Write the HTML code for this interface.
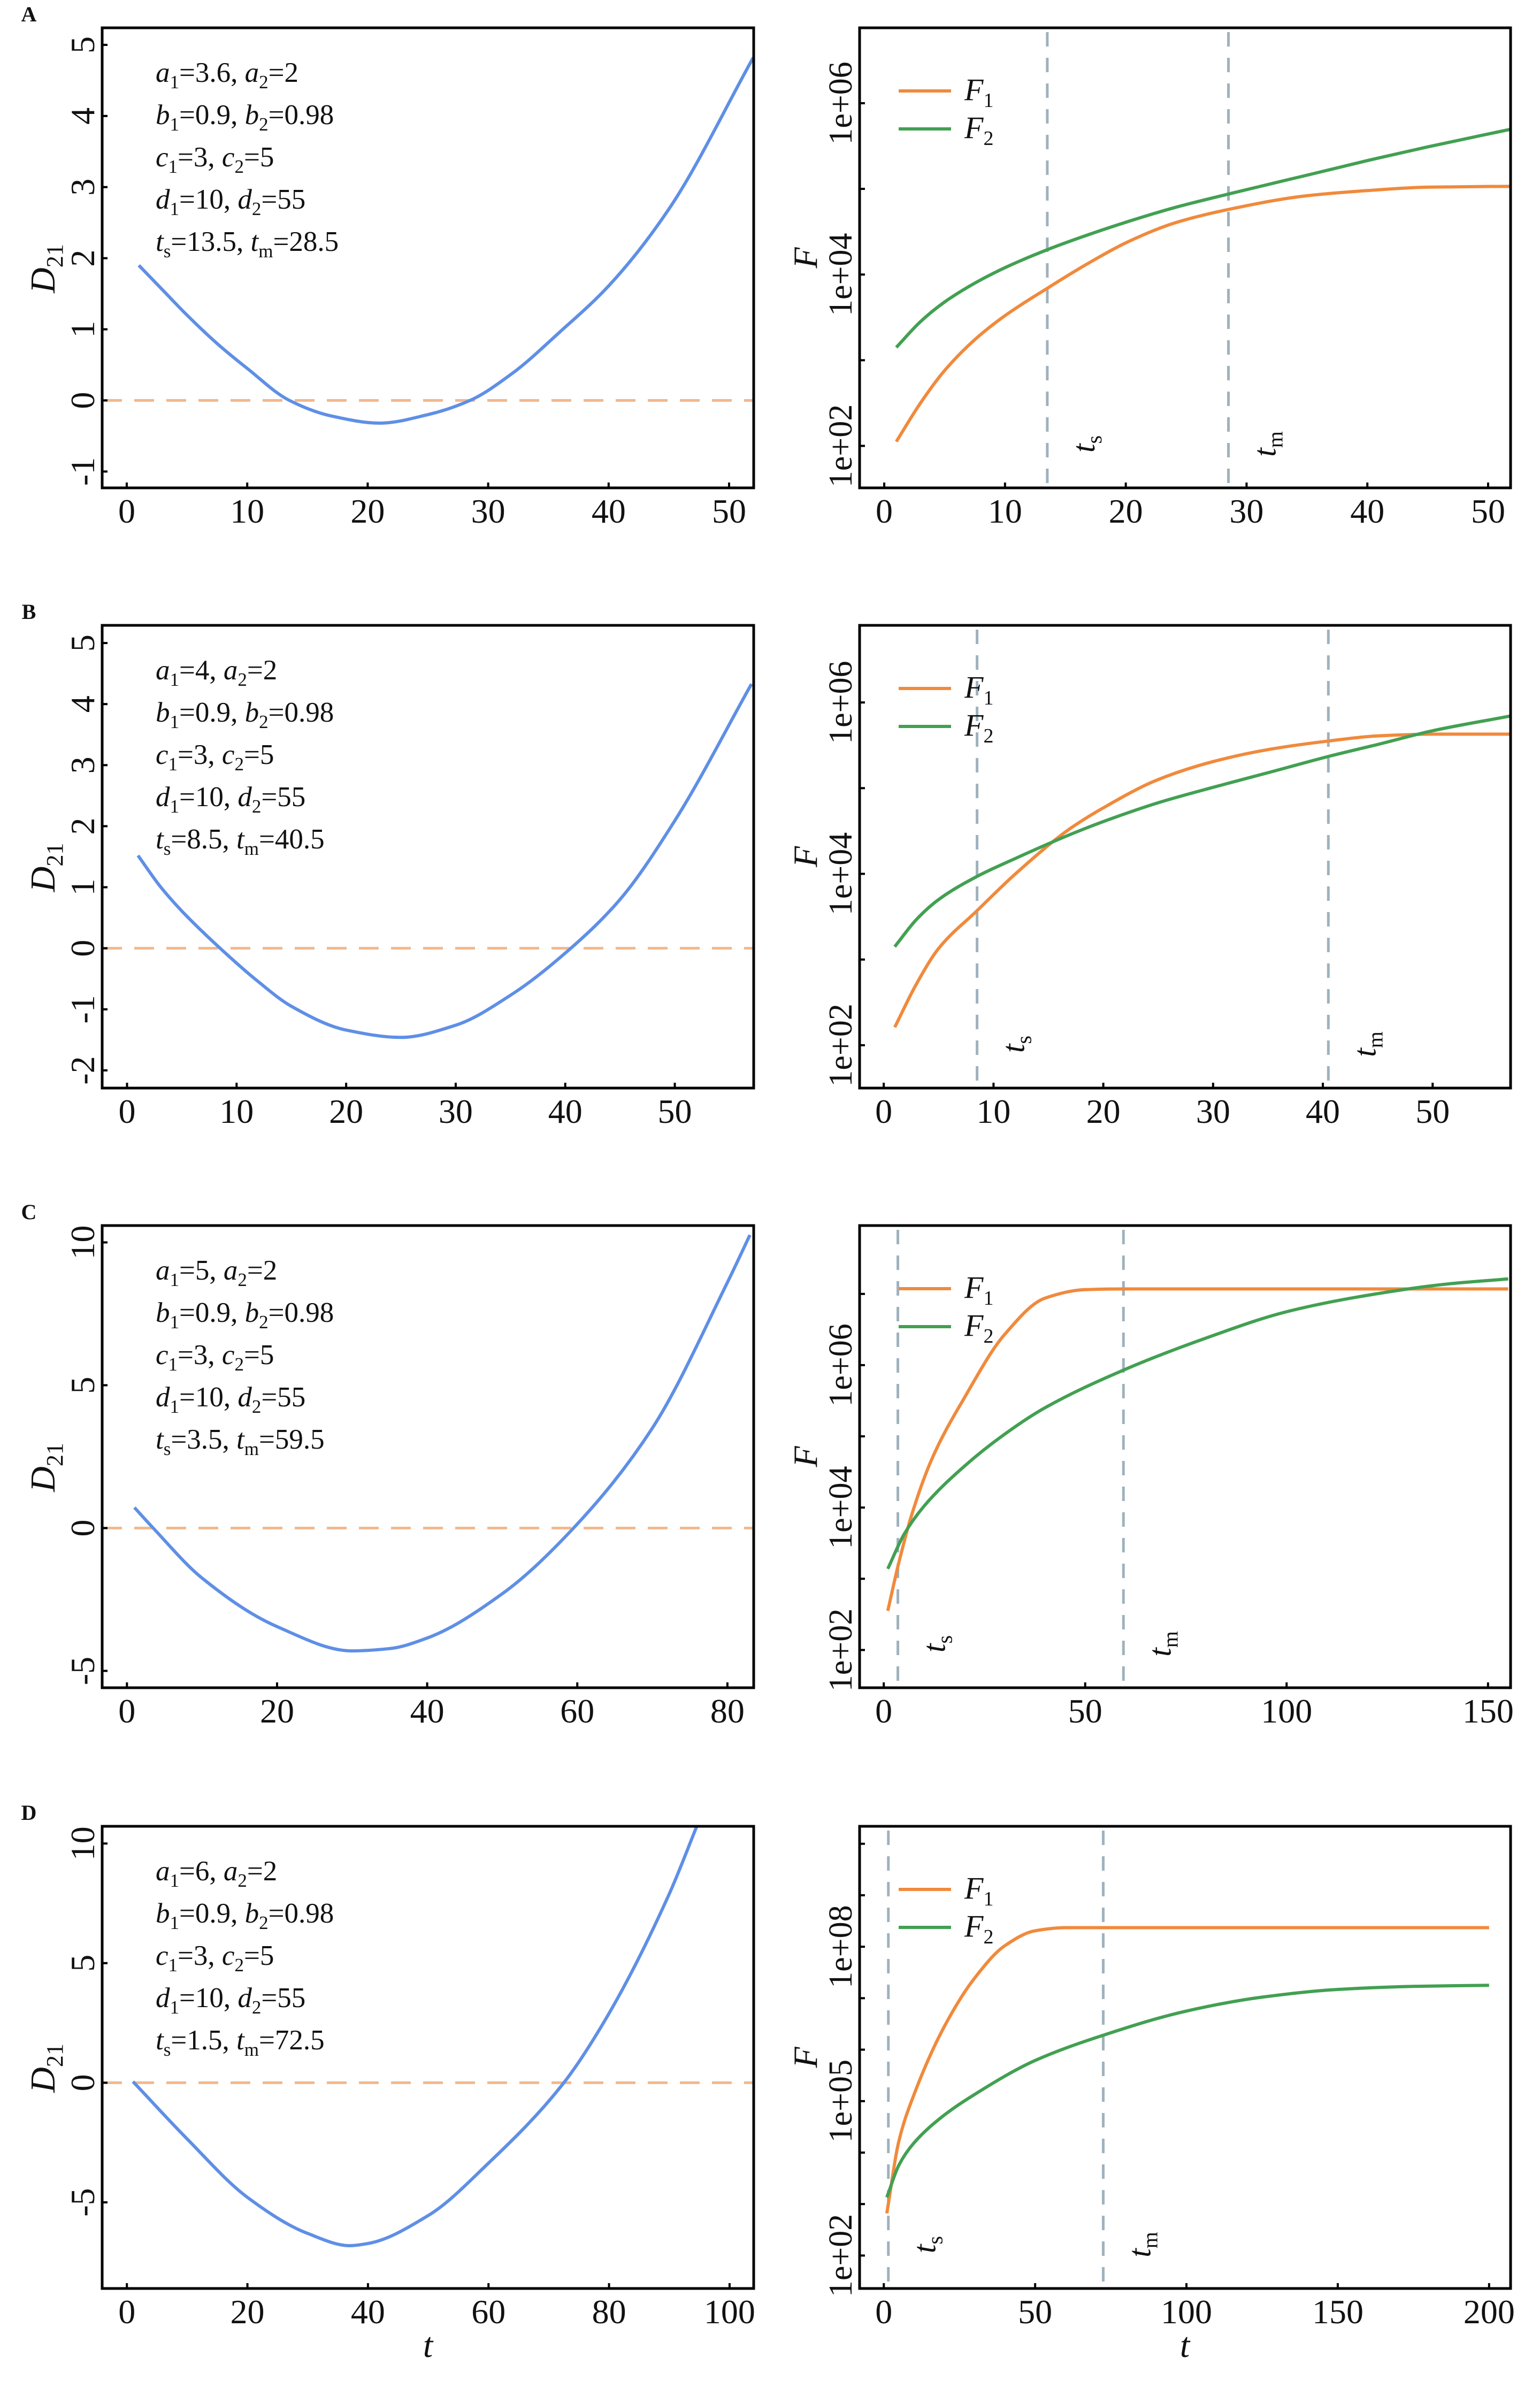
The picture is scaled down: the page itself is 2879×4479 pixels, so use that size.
<!DOCTYPE html>
<html><head><meta charset="utf-8">
<style>
html,body{margin:0;padding:0;background:#fff;}
svg{display:block;}
text{font-family:"Liberation Serif",serif;fill:#111;}
</style></head>
<body>
<svg id="fig" width="2879" height="4479" viewBox="0 0 2879 4479" xmlns="http://www.w3.org/2000/svg">
<rect width="2879" height="4479" fill="#fff"/>
</svg>
<script>
// ---- Panel A data ----
const tA_D = [1, 3, 5, 7.5, 10, 13.5, 17, 21, 25, 28.5, 32, 36, 40, 45, 52];
const vA_D = [1.9, 1.55, 1.2, 0.8, 0.45, 0, -0.22, -0.32, -0.2, 0, 0.38, 0.97, 1.61, 2.69, 4.82];
const tA_F = [1, 3, 5, 7.5, 10, 13.5, 17, 20, 24, 28.5, 35, 40, 45, 52];
const vA_F1 = [2.05, 2.5, 2.88, 3.24, 3.52, 3.84, 4.14, 4.37, 4.6, 4.76, 4.92, 4.98, 5.02, 5.03];
const vA_F2 = [3.15, 3.45, 3.68, 3.90, 4.08, 4.29, 4.47, 4.61, 4.78, 4.94, 5.16, 5.33, 5.49, 5.70];
// ---- Panel B data ----
const tB_D = [1, 3, 5, 8.5, 12, 15, 20, 25, 30, 35, 40.5, 45, 50, 57];
const vB_D = [1.52, 1.02, 0.61, 0, -0.55, -0.95, -1.34, -1.46, -1.26, -0.77, 0, 0.80, 2.09, 4.33];
const tB_F = [1, 3, 5, 8.5, 12, 17, 20, 25, 30, 35, 40.5, 45, 50, 57];
const vB_F1 = [2.21, 2.72, 3.13, 3.57, 4.00, 4.53, 4.77, 5.10, 5.31, 5.45, 5.55, 5.61, 5.63, 5.63];
const vB_F2 = [3.15, 3.47, 3.70, 3.97, 4.18, 4.46, 4.61, 4.83, 5.01, 5.18, 5.37, 5.51, 5.67, 5.84];
// ---- Panel C data ----
const tC_D = [1, 3.5, 10, 20, 30, 35, 40, 50, 59.5, 70, 80, 83];
const vC_D = [0.72, 0, -1.75, -3.45, -4.3, -4.22, -3.85, -2.3, 0, 3.5, 8.6, 10.26];
const tC_F1 = [1, 3.5, 7, 12, 20, 30, 40, 50, 59.5, 155];
const vC_F1 = [2.55, 3.17, 3.91, 4.69, 5.54, 6.43, 6.94, 7.06, 7.07, 7.07];
const tC_F2 = [1, 5, 10, 20, 30, 40, 59.5, 80, 100, 120, 140, 155];
const vC_F2 = [3.14, 3.62, 4.02, 4.58, 5.03, 5.40, 5.93, 6.38, 6.75, 6.98, 7.14, 7.21];
// ---- Panel D data ----
const tD_D = [1, 10, 20, 30, 37, 40, 50, 60, 72.5, 80, 90, 95];
const vD_D = [0.05, -2.35, -4.79, -6.30, -6.81, -6.72, -5.55, -3.36, 0, 2.9, 7.9, 11.0];
const tD_F1 = [1, 5, 10, 20, 30, 40, 50, 60, 200];
const vD_F1 = [2.82, 4.23, 5.13, 6.45, 7.39, 8.02, 8.31, 8.37, 8.37];
const tD_F2 = [1, 5, 10, 20, 30, 50, 72.5, 100, 125, 150, 175, 200];
const vD_F2 = [3.13, 3.76, 4.19, 4.73, 5.13, 5.79, 6.28, 6.75, 7.02, 7.17, 7.23, 7.25];
// ---- thresholds ----
const tsVals = [13.5, 8.5, 3.5, 1.5];
const tmVals = [28.5, 40.5, 59.5, 72.5];
const panelLetters = ['A','B','C','D'];
const paramA = ['3.6','4','5','6'];
const leftYTicks = [[-1,0,1,2,3,4,5],[-2,-1,0,1,2,3,4,5],[-5,0,5,10],[-5,0,5,10]];
const leftXTicks = [[0,10,20,30,40,50],[0,10,20,30,40,50],[0,20,40,60,80],[0,20,40,60,80,100]];
const rightXTicks = [[0,10,20,30,40,50],[0,10,20,30,40,50],[0,50,100,150],[0,50,100,150,200]];
const rightLogTicks = [[2,3,4,5,6],[2,3,4,5,6],[2,3,4,5,6,7],[2,3,4,5,6,7,8,9,10]];
const rightLogLabels = [[2,4,6],[2,4,6],[2,4,6],[2,5,8]];

const rows = [
 {top:52, bot:912, lx:[-2.04,52.04], ly:[-1.23,5.24], rx:[-2.04,51.86], ry:[1.51,6.88],
  Dt:tA_D, Dv:vA_D, F1t:tA_F, F1v:vA_F1, F2t:tA_F, F2v:vA_F2},
 {top:1169, bot:2034, lx:[-2.27,57.2], ly:[-2.29,5.29], rx:[-2.2,57.1], ry:[1.50,6.90],
  Dt:tB_D, Dv:vB_D, F1t:tB_F, F1v:vB_F1, F2t:tB_F, F2v:vB_F2},
 {top:2291, bot:3155, lx:[-3.3,83.5], ly:[-5.59,10.59], rx:[-6.0,155.6], ry:[1.47,7.96],
  Dt:tC_D, Dv:vC_D, F1t:tC_F1, F1v:vC_F1, F2t:tC_F2, F2v:vC_F2},
 {top:3414, bot:4278, lx:[-4.1,104], ly:[-8.6,10.72], rx:[-8.0,207.1], ry:[1.36,10.34],
  Dt:tD_D, Dv:vD_D, F1t:tD_F1, F1v:vD_F1, F2t:tD_F2, F2v:vD_F2}
];
const L = {x0:191, x1:1409}, R = {x0:1607, x1:2824};
const NS = 'http://www.w3.org/2000/svg';
const svg = document.getElementById('fig');
function mk(tag, attrs, parent){
  const e = document.createElementNS(NS, tag);
  for (const k in attrs) e.setAttribute(k, attrs[k]);
  (parent||svg).appendChild(e); return e;
}
function scale(d, r){ return v => r[0] + (v - d[0]) / (d[1] - d[0]) * (r[1] - r[0]); }
function smoothPath(pts){
  const n = pts.length;
  const dx = [], sl = [];
  for (let i = 0; i < n-1; i++){ dx.push(pts[i+1][0]-pts[i][0]); sl.push((pts[i+1][1]-pts[i][1])/dx[i]); }
  const m = new Array(n);
  m[0] = sl[0]; m[n-1] = sl[n-2];
  for (let i = 1; i < n-1; i++){
    if (sl[i-1]*sl[i] <= 0) m[i] = 0;
    else {
      const w1 = 2*dx[i] + dx[i-1], w2 = dx[i] + 2*dx[i-1];
      m[i] = (w1 + w2) / (w1/sl[i-1] + w2/sl[i]);
    }
  }
  let d = 'M' + pts[0][0].toFixed(1) + ',' + pts[0][1].toFixed(1);
  for (let i = 0; i < n-1; i++){
    const h = dx[i]/3;
    d += ' C' + (pts[i][0]+h).toFixed(1) + ',' + (pts[i][1]+m[i]*h).toFixed(1) + ' ' +
         (pts[i+1][0]-h).toFixed(1) + ',' + (pts[i+1][1]-m[i+1]*h).toFixed(1) + ' ' +
         pts[i+1][0].toFixed(1) + ',' + pts[i+1][1].toFixed(1);
  }
  return d;
}
function label(parent, x, y, parts, size, rot, anchor){
  const t = mk('text', {x:x, y:y, 'font-size':size, 'text-anchor':anchor||'start'}, parent);
  if (rot) t.setAttribute('transform', 'rotate(-90 ' + x + ' ' + y + ')');
  parts.forEach(p => {
    const s = mk('tspan', {}, t);
    if (p.i) s.setAttribute('font-style', 'italic');
    if (p.sub){ s.setAttribute('font-size', Math.round(size*0.66)); s.setAttribute('dy', Math.round(size*0.22)); }
    if (p.up){ s.setAttribute('dy', -Math.round(size*0.22)); }
    s.textContent = p.s;
  });
  return t;
}

rows.forEach((r, k) => {
  const letter = panelLetters[k];
  const gl = mk('g', {});
  
  
  const sx = scale(r.lx, [L.x0, L.x1]), sy = scale(r.ly, [r.bot, r.top]);
  const cid = 'clipL' + k;
  const cp = mk('clipPath', {id:cid}, gl);
  mk('rect', {x:L.x0, y:r.top, width:L.x1-L.x0, height:r.bot-r.top}, cp);
  const z = mk('line', {x1:L.x0, x2:L.x1, y1:sy(0), y2:sy(0), stroke:'#f2b88c', 'stroke-width':5, 'stroke-dasharray':'37 23'}, gl);
  
  
  const dp = mk('path', {d:smoothPath(r.Dt.map((t,i)=>[sx(t), sy(r.Dv[i])])), fill:'none', stroke:'#5f8fe6', 'stroke-width':6, 'stroke-linejoin':'round', 'clip-path':'url(#'+cid+')'}, gl);
  
  
  const fr = mk('rect', {x:L.x0, y:r.top, width:L.x1-L.x0, height:r.bot-r.top, fill:'none', stroke:'#000', 'stroke-width':5}, gl);
  
  
  leftXTicks[k].forEach(v => {
    mk('line', {x1:sx(v), x2:sx(v), y1:r.bot, y2:r.bot-10, stroke:'#000', 'stroke-width':4}, gl);
    const tl = label(gl, sx(v), r.bot+65, [{s:String(v)}], 64, false, 'middle');
    
    
  });
  leftYTicks[k].forEach(v => {
    mk('line', {x1:L.x0, x2:L.x0+10, y1:sy(v), y2:sy(v), stroke:'#000', 'stroke-width':4}, gl);
    const tl = label(gl, 176, sy(v), [{s:String(v)}], 64, true, 'middle');
    
    
  });
  const yl = label(gl, 102, (r.top+r.bot)/2 + 20, [{s:'D', i:true}, {s:'21', sub:true}], 66, true, 'middle');
  
  
  const pl = mk('text', {x:54, y:r.top-12, 'font-size':40, 'font-weight':'bold', 'text-anchor':'middle'}, gl);
  pl.textContent = letter;
  
  
  const lines = [
    [{s:'a',i:true},{s:'1',sub:true},{s:'=' + paramA[k] + ', ',up:true},{s:'a',i:true},{s:'2',sub:true},{s:'=2',up:true}],
    [{s:'b',i:true},{s:'1',sub:true},{s:'=0.9, ',up:true},{s:'b',i:true},{s:'2',sub:true},{s:'=0.98',up:true}],
    [{s:'c',i:true},{s:'1',sub:true},{s:'=3, ',up:true},{s:'c',i:true},{s:'2',sub:true},{s:'=5',up:true}],
    [{s:'d',i:true},{s:'1',sub:true},{s:'=10, ',up:true},{s:'d',i:true},{s:'2',sub:true},{s:'=55',up:true}],
    [{s:'t',i:true},{s:'s',sub:true},{s:'=' + tsVals[k] + ', ',up:true},{s:'t',i:true},{s:'m',sub:true},{s:'=' + tmVals[k],up:true}]
  ];
  lines.forEach((ln, j) => {
    const pt = label(gl, 291, r.top + 101 + j*79, ln, 53, false, 'start');
    
    
  });
  if (k === 3){
    const xt = label(gl, 800, r.bot+128, [{s:'t', i:true}], 66, false, 'middle');
    
    
  }

  const gr = mk('g', {});
  
  
  const rx = scale(r.rx, [R.x0, R.x1]), ry = scale(r.ry, [r.bot, r.top]);
  const cid2 = 'clipR' + k;
  const cp2 = mk('clipPath', {id:cid2}, gr);
  mk('rect', {x:R.x0, y:r.top, width:R.x1-R.x0, height:r.bot-r.top}, cp2);
  [[tsVals[k],'s','ts'],[tmVals[k],'m','tm']].forEach(([v, sub, nm]) => {
    const vl = mk('line', {x1:rx(v), x2:rx(v), y1:r.top+8, y2:r.bot, stroke:'#9fb2bd', 'stroke-width':5, 'stroke-dasharray':'27 21'}, gr);
    
    
    const vt = label(gr, rx(v)+88, r.bot-82, [{s:'t', i:true}, {s:sub, sub:true}], 60, true, 'middle');
    
    
  });
  const p1 = mk('path', {d:smoothPath(r.F1t.map((t,i)=>[rx(t), ry(r.F1v[i])])), fill:'none', stroke:'#f08a3c', 'stroke-width':6, 'clip-path':'url(#'+cid2+')'}, gr);
  
  
  const p2 = mk('path', {d:smoothPath(r.F2t.map((t,i)=>[rx(t), ry(r.F2v[i])])), fill:'none', stroke:'#42a052', 'stroke-width':6, 'clip-path':'url(#'+cid2+')'}, gr);
  
  
  const fr2 = mk('rect', {x:R.x0, y:r.top, width:R.x1-R.x0, height:r.bot-r.top, fill:'none', stroke:'#000', 'stroke-width':5}, gr);
  
  
  rightXTicks[k].forEach(v => {
    mk('line', {x1:rx(v), x2:rx(v), y1:r.bot, y2:r.bot-10, stroke:'#000', 'stroke-width':4}, gr);
    const tl = label(gr, rx(v), r.bot+65, [{s:String(v)}], 64, false, 'middle');
    
    
  });
  rightLogTicks[k].forEach(v => {
    mk('line', {x1:R.x0, x2:R.x0+10, y1:ry(v), y2:ry(v), stroke:'#000', 'stroke-width':4}, gr);
  });
  rightLogLabels[k].forEach(v => {
    const tl = label(gr, 1592, ry(v), [{s:'1e+' + String(v).padStart(2,'0')}], 62, true, 'middle');
    
    
  });
  const fl = label(gr, 1527, (r.top+r.bot)/2, [{s:'F', i:true}], 64, true, 'middle');
  
  
  if (k === 3){
    const xt = label(gr, 2215, r.bot+128, [{s:'t', i:true}], 66, false, 'middle');
    
    
  }
  const lg = mk('g', {}, gr);
  
  
  [['#f08a3c','1',118,'legend-entry-f1'],['#42a052','2',189,'legend-entry-f2']].forEach(([c, n, dy, nm]) => {
    const ge = mk('g', {}, lg);
    
    
    mk('line', {x1:1680, x2:1778, y1:r.top+dy, y2:r.top+dy, stroke:c, 'stroke-width':6}, ge);
    label(ge, 1803, r.top+dy+17, [{s:'F', i:true}, {s:n, sub:true}], 58, false, 'start');
  });
});
</script>
</body></html>
